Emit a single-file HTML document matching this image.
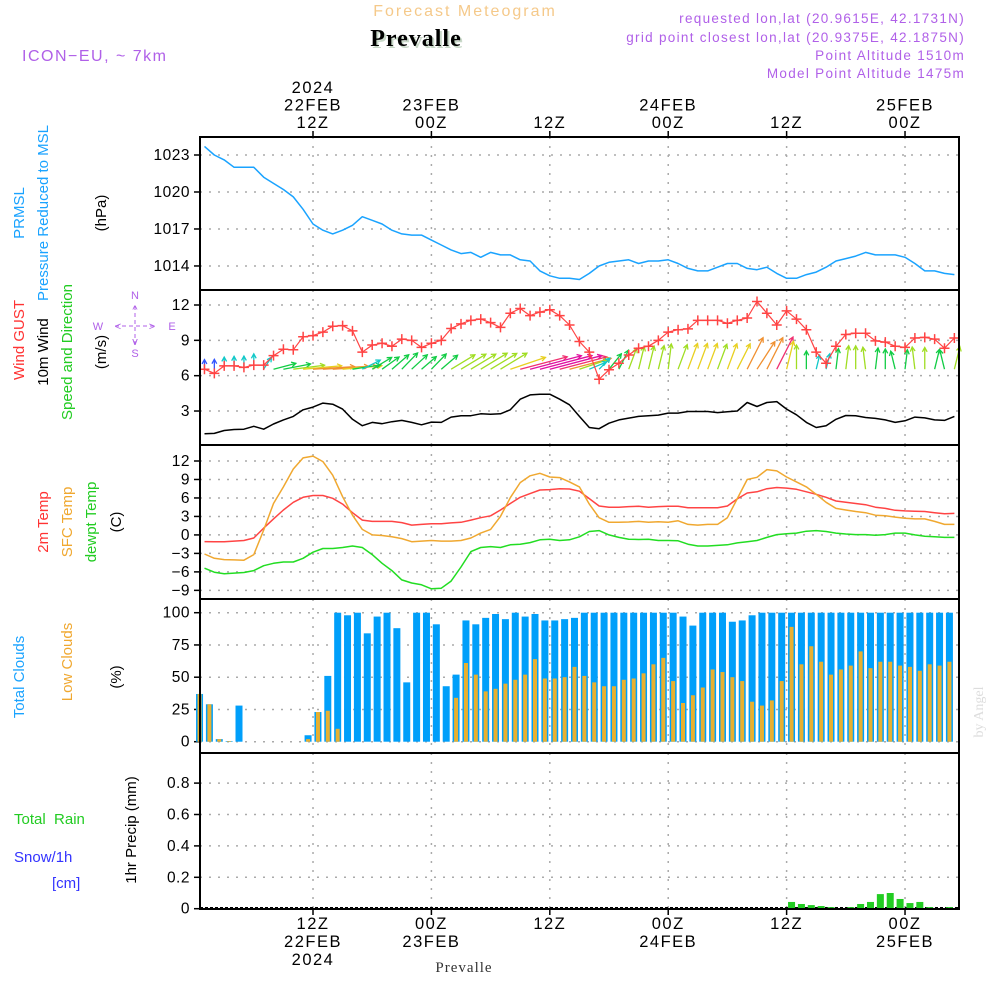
<!DOCTYPE html>
<html><head><meta charset="utf-8"><style>
html,body{margin:0;padding:0;background:#fff;}
svg{display:block;font-family:"Liberation Sans",sans-serif;}
</style></head><body>
<svg id="chart" width="1000" height="1000" viewBox="0 0 1000 1000" xmlns="http://www.w3.org/2000/svg">
<rect x="0" y="0" width="1000" height="1000" fill="#fff"/>
<text x="465" y="16" text-anchor="middle" font-size="16" fill="#f5c98a" letter-spacing="2">Forecast Meteogram</text>
<text x="418" y="48" text-anchor="middle" font-size="24" font-weight="bold" font-family="Liberation Serif,serif" fill="#c8d8c8" letter-spacing="1">Prevalle</text>
<text x="416" y="46" text-anchor="middle" font-size="24" font-weight="bold" font-family="Liberation Serif,serif" fill="#000" letter-spacing="1">Prevalle</text>
<text x="22" y="61" font-size="16" fill="#b060e8" letter-spacing="1.5">ICON−EU, ~ 7km</text>
<g font-size="13.5" fill="#b060e8" text-anchor="end" letter-spacing="1.3">
<text x="965" y="23">requested lon,lat (20.9615E, 42.1731N)</text>
<text x="965" y="42">grid point closest lon,lat (20.9375E, 42.1875N)</text>
<text x="965" y="60">Point Altitude 1510m</text>
<text x="965" y="78">Model Point Altitude 1475m</text>
</g>
<g id="grid"></g>
<g id="marks"></g>
<g id="frames"></g>
<g id="labels"></g>
<g font-size="15">
<text transform="translate(24,213) rotate(-90)" text-anchor="middle" fill="#1aa3ff">PRMSL</text>
<text transform="translate(48,213) rotate(-90)" text-anchor="middle" fill="#1aa3ff">Pressure Reduced to MSL</text>
<text transform="translate(106,213) rotate(-90)" text-anchor="middle" fill="#000">(hPa)</text>
</g>
<g font-size="15">
<text transform="translate(24,340) rotate(-90)" text-anchor="middle" fill="#ff3333">Wind GUST</text>
<text transform="translate(48,352) rotate(-90)" text-anchor="middle" fill="#000">10m Wind</text>
<text transform="translate(72,352) rotate(-90)" text-anchor="middle" fill="#22cc22">Speed and Direction</text>
<text transform="translate(106,352) rotate(-90)" text-anchor="middle" fill="#000">(m/s)</text>
</g>
<g font-size="11" fill="#b060e8" text-anchor="middle">
<text x="135" y="299">N</text><text x="135" y="357">S</text><text x="98" y="330">W</text><text x="172" y="330">E</text>
<text x="135" y="313">^</text><text x="135" y="345">v</text>
<line x1="115" y1="326" x2="155" y2="326" stroke="#b060e8" stroke-dasharray="4,3"/>
<line x1="135" y1="306" x2="135" y2="346" stroke="#b060e8" stroke-dasharray="4,3"/>
<text x="118" y="330">&lt;</text><text x="152" y="330">&gt;</text>
</g>
<g font-size="15">
<text transform="translate(48,522) rotate(-90)" text-anchor="middle" fill="#ff3333">2m Temp</text>
<text transform="translate(72,522) rotate(-90)" text-anchor="middle" fill="#f0a830">SFC Temp</text>
<text transform="translate(96,522) rotate(-90)" text-anchor="middle" fill="#22cc22">dewpt Temp</text>
<text transform="translate(121,522) rotate(-90)" text-anchor="middle" fill="#000">(C)</text>
</g>
<g font-size="15">
<text transform="translate(24,677) rotate(-90)" text-anchor="middle" fill="#1aa3ff">Total Clouds</text>
<text transform="translate(72,662) rotate(-90)" text-anchor="middle" fill="#f0a830">Low Clouds</text>
<text transform="translate(121,677) rotate(-90)" text-anchor="middle" fill="#000">(%)</text>
</g>
<g font-size="15">
<text x="14" y="824" fill="#22cc22" xml:space="preserve">Total  Rain</text>
<text x="14" y="862" fill="#3333ff">Snow/1h</text>
<text x="52" y="888" fill="#3333ff">[cm]</text>
<text transform="translate(136,830) rotate(-90)" text-anchor="middle" fill="#000">1hr Precip (mm)</text>
</g>
<text x="464" y="972" text-anchor="middle" font-size="15" font-family="Liberation Serif,serif" fill="#333" letter-spacing="1">Prevalle</text>
<text transform="translate(983,712) rotate(-90)" text-anchor="middle" font-size="14" font-family="Liberation Serif,serif" fill="#ddd">by Angel</text>
</svg>
<script>
// ===== data (hourly, h = 1..77 hours after 00Z 22FEB) =====
const hours = [];
for (let h = 1; h <= 77; h++) hours.push(h);
const pressure = [1023.7,1023.0,1022.6,1022.0,1022.0,1022.0,1021.2,1020.7,1020.2,1019.6,1018.6,1017.4,1016.9,1016.6,1016.9,1017.3,1018.0,1017.7,1017.4,1016.9,1016.6,1016.5,1016.5,1016.1,1015.7,1015.3,1015.0,1015.1,1014.7,1015.1,1014.9,1014.9,1014.5,1014.4,1013.6,1013.2,1013.0,1013.0,1012.9,1013.4,1014.0,1014.3,1014.4,1014.5,1014.2,1014.4,1014.4,1014.5,1014.2,1013.8,1013.6,1013.6,1013.9,1014.2,1014.2,1013.8,1013.7,1013.9,1013.4,1013.0,1013.0,1013.3,1013.5,1013.9,1014.4,1014.6,1014.8,1015.1,1014.9,1014.9,1014.9,1014.7,1014.2,1013.6,1013.6,1013.4,1013.3];
const windSpeed = [1.07,1.1,1.35,1.43,1.46,1.7,1.46,1.9,2.25,2.54,3.1,3.33,3.67,3.58,3.16,2.3,1.75,2.03,1.92,2.09,2.2,2.03,1.83,2.06,2.03,2.48,2.6,2.6,2.76,2.73,2.76,3.1,4.0,4.37,4.43,4.43,4.0,3.53,2.54,1.6,1.5,1.97,2.25,2.4,2.54,2.6,2.65,2.82,2.82,2.96,2.96,2.96,2.87,2.93,3.0,3.72,3.38,3.72,3.8,3.16,2.68,2.03,1.6,1.75,2.3,2.62,2.6,2.45,2.37,2.25,2.03,2.17,2.48,2.42,2.25,2.2,2.54];
const windGust = [6.55,6.2,6.83,6.83,6.7,6.9,6.9,7.7,8.24,8.2,9.3,9.4,9.7,10.2,10.25,9.8,8.0,8.6,8.75,8.5,9.1,9.0,8.4,8.75,9.0,10.0,10.4,10.7,10.8,10.5,10.1,11.3,11.7,11.1,11.4,11.6,11.1,10.3,8.9,8.0,5.7,6.5,7.06,7.76,8.33,8.5,9.0,9.7,9.9,9.97,10.7,10.7,10.7,10.45,10.7,10.9,12.3,11.3,10.3,11.5,10.8,9.9,8.0,7.06,8.5,9.5,9.6,9.6,8.95,8.85,8.5,8.4,9.2,9.25,9.1,8.33,9.2];
const windDir = [0,0,0,0,0,0,25,70,75,80,83,85,85,85,83,78,55,50,45,40,35,38,40,35,40,50,50,50,50,50,50,65,70,70,70,70,70,70,65,60,35,30,20,15,10,10,10,5,15,15,15,15,15,15,20,20,25,20,20,10,0,0,10,10,5,5,0,-5,5,0,-10,5,-5,0,10,-10,10];
const temp2m = [-1.08,-1.1,-1.1,-1.0,-0.9,-0.5,1.1,2.6,4.05,5.3,6.1,6.4,6.4,5.95,5.0,3.6,2.4,2.2,2.2,2.2,2.0,1.6,1.7,1.8,1.8,1.95,2.05,2.4,2.8,3.1,4.05,5.1,6.1,6.7,7.3,7.35,7.5,7.45,7.1,5.9,4.7,4.5,4.5,4.6,4.65,4.5,4.6,4.65,4.65,4.4,4.4,4.4,4.4,4.7,5.85,6.8,7.0,7.5,7.7,7.6,7.4,7.0,6.6,6.1,5.5,5.3,5.1,4.9,4.5,4.3,4.0,3.9,3.85,3.8,3.6,3.45,3.5];
const tempSfc = [-3.1,-3.8,-4.0,-4.05,-4.1,-3.2,0.8,5.1,7.8,10.7,12.5,12.8,11.9,9.7,6.2,3.2,0.9,0,-0.1,-0.3,-0.6,-1.1,-1.0,-0.9,-1.0,-1.0,-0.9,-0.5,0.3,0.9,3.0,6.05,8.5,9.6,10.0,9.4,9.3,8.6,7.8,5.0,2.8,2.05,2.05,2.1,2.2,2.05,2.15,2.05,2.3,1.7,1.6,1.7,1.7,2.8,5.9,9.0,9.35,10.6,10.4,9.4,8.6,7.8,6.6,5.3,4.3,4.05,3.8,3.6,3.2,3.1,2.9,2.7,2.6,2.6,2.2,1.7,1.7];
const tempDew = [-5.4,-6.05,-6.3,-6.2,-6.1,-5.8,-5.0,-4.6,-4.4,-4.4,-3.8,-2.8,-2.2,-2.2,-2.05,-1.8,-2.05,-3.2,-4.6,-5.8,-7.3,-7.8,-8.1,-8.75,-8.65,-7.5,-5.2,-2.7,-2.05,-1.9,-2.05,-1.6,-1.5,-1.25,-0.8,-0.7,-0.9,-0.8,-0.3,0.55,0.7,0,-0.4,-0.7,-0.75,-0.7,-0.9,-0.9,-0.95,-1.5,-1.8,-1.8,-1.7,-1.6,-1.3,-1.1,-0.9,-0.4,0.05,0.2,0.3,0.6,0.7,0.55,0.3,0.15,0.05,0.05,-0.05,0.05,0.3,0.3,0,-0.2,-0.3,-0.4,-0.4];
// hourly accumulation bars, index i covers hour i..i+1
const cloudTotal = [37,29,2,0.5,28,0,0,0,0,0,0,5,23,51,100,98,100,84,97,100,88,46,100,100,91,43,52,94,91,96,99,95,100,97,99,94,94,95,96,100,100,100,100,100,100,100,100,100,100,97,90,100,100,100,93,94,98,100,100,100,100,100,100,100,100,100,100,100,100,100,100,100,100,100,100,100,100];
const cloudLow = [37,29,2,0.5,0,0,0,0,0,0,0,2,23,24,10,0,0,0,0,0,0,0,0,0,0,0,34,61,52,39,41,45,48,52,64,49,49,50,58,51,46,43,43,48,49,53,60,65,47,30,36,42,56,54,50,47,31,28,32,47,89,60,74,62,52,56,59,70,57,62,62,59,58,55,60,59,62];
const precipStart = 60;
const precip = [0.043,0.03,0.023,0.017,0.01,0.002,0.01,0.03,0.043,0.093,0.1,0.062,0.036,0.043,0.01,0.002,0.01];
// axis ticks
const timeTicks = [12,24,36,48,60,72];
const timeTopLabels = [["2024","22FEB","12Z"],["","23FEB","00Z"],["","","12Z"],["","24FEB","00Z"],["","","12Z"],["","25FEB","00Z"]];
const timeBottomLabels = [["12Z","22FEB","2024"],["00Z","23FEB",""],["12Z","",""],["00Z","24FEB",""],["12Z","",""],["00Z","25FEB",""]];
const pressureTicks = [1014,1017,1020,1023];
const windTicks = [3,6,9,12];
const tempTicks = [-9,-6,-3,0,3,6,9,12];
const cloudTicks = [0,25,50,75,100];
const precipTicks = [0,0.2,0.4,0.6,0.8];

// ===== scales =====
const X = h => 194.6 + 9.867 * h;
const Yp = p => 155 + (1023 - p) * 12.33;
const Yw = v => 305 + (12 - v) * 11.78;
const Yt = t => 461 + (12 - t) * 6.16;
const Yc = c => 741.7 - c * 1.29;
const Yr = r => 908.7 - r * 157;
const panels = [
  {name:'pressure', top:137, bot:290, ticks:pressureTicks, y:Yp, fmt:v=>String(v)},
  {name:'wind', top:290, bot:445, ticks:windTicks, y:Yw, fmt:v=>String(v)},
  {name:'temp', top:445, bot:599, ticks:tempTicks, y:Yt, fmt:v=>(v<0?'−'+(-v):String(v))},
  {name:'cloud', top:599, bot:753, ticks:cloudTicks, y:Yc, fmt:v=>String(v)},
  {name:'precip', top:753, bot:909, ticks:precipTicks, y:Yr, fmt:v=>(v===0?'0':v.toFixed(1))}
];
const L = 200, R = 959;
const NS = 'http://www.w3.org/2000/svg';
function mk(tag, attrs, parent) {
  const e = document.createElementNS(NS, tag);
  for (const k in attrs) e.setAttribute(k, attrs[k]);
  parent.appendChild(e);
  return e;
}
const gGrid = document.getElementById('grid');
const gMarks = document.getElementById('marks');
const gFrames = document.getElementById('frames');
const gLabels = document.getElementById('labels');

panels.forEach(p => {
  p.ticks.forEach(t => {
    const y = p.y(t);
    if (y > p.top + 3 && y < p.bot - 3) {
      const g = mk('line', {x1:L, x2:R, y1:y, y2:y, stroke:'#aaa', 'stroke-dasharray':'2,7', 'stroke-width':1.5}, gGrid);
      
      
    }
    mk('line', {x1:L-6, x2:L, y1:y, y2:y, stroke:'#000', 'stroke-width':1.5}, gGrid);
    const tx = mk('text', {x:L-10, y:y+5, 'text-anchor':'end', 'font-size':15.5, fill:'#000', 'letter-spacing':0.5}, gLabels);
    
    
    tx.textContent = p.fmt(t);
  });
  timeTicks.forEach(h => {
    const vl = mk('line', {x1:X(h), x2:X(h), y1:p.top, y2:p.bot, stroke:'#aaa', 'stroke-dasharray':'2,7', 'stroke-width':1.5}, gGrid);
    
    
  });
  const fr = mk('rect', {x:L, y:p.top, width:R-L, height:p.bot-p.top, fill:'none', stroke:'#000', 'stroke-width':2}, gFrames);
  
  
});
timeTicks.forEach((h, i) => {
  mk('line', {x1:X(h), x2:X(h), y1:131, y2:137, stroke:'#000', 'stroke-width':1.5}, gFrames);
  mk('line', {x1:X(h), x2:X(h), y1:909, y2:915, stroke:'#000', 'stroke-width':1.5}, gFrames);
  timeTopLabels[i].forEach((s, j) => {
    if (!s) return;
    const t = mk('text', {x:X(h), y:93 + j*17.5, 'text-anchor':'middle', 'font-size':16.5, fill:'#000', 'letter-spacing':1.5}, gLabels);
    
    
    t.textContent = s;
  });
  timeBottomLabels[i].forEach((s, j) => {
    if (!s) return;
    const t = mk('text', {x:X(h), y:929 + j*18, 'text-anchor':'middle', 'font-size':16.5, fill:'#000', 'letter-spacing':1.5}, gLabels);
    
    
    t.textContent = s;
  });
});

function polyline(vals, yf, color, name, w) {
  const pts = vals.map((v, i) => X(hours[i]).toFixed(1) + ',' + yf(v).toFixed(1)).join(' ');
  const pl = mk('polyline', {points:pts, fill:'none', stroke:color, 'stroke-width':w||1.5, 'stroke-linejoin':'round'}, gMarks);
  
  
}
polyline(pressure, Yp, '#1aa3ff', 'pressure-line');
cloudTotal.forEach((v, i) => {
  const cx = X(i + 0.5);
  const b = mk('rect', {x:cx-3.5, y:Yc(v), width:7, height:Yc(0)-Yc(v), fill:'#009ffa'}, gMarks);
  
  
});
cloudLow.forEach((v, i) => {
  const cx = X(i + 0.5);
  const b = mk('rect', {x:cx-2, y:Yc(v), width:4, height:Yc(0)-Yc(v), fill:'#e8b030'}, gMarks);
  
  
});
mk('line', {x1:L, x2:R, y1:Yr(0)-1, y2:Yr(0)-1, stroke:'#000', 'stroke-width':1.5, 'stroke-dasharray':'3,2'}, gMarks);
precip.forEach((v, k) => {
  const cx = X(precipStart + k + 0.5);
  const b = mk('rect', {x:cx-3.5, y:Yr(v), width:7, height:Yr(0)-Yr(v), fill:'#22cc22'}, gMarks);
  
  
});
polyline(temp2m, Yt, '#ff4444', 'temp-2m-line');
polyline(tempSfc, Yt, '#f0a830', 'temp-sfc-line');
polyline(tempDew, Yt, '#22dd22', 'dewpoint-line');
polyline(windSpeed, Yw, '#000', 'wind-speed-line');
function spdColor(s) {
  if (s < 1.3) return '#3355ff';
  if (s < 1.8) return '#11c8c8';
  if (s < 2.4) return '#11cc44';
  if (s < 2.9) return '#a0dd22';
  if (s < 3.3) return '#e8d020';
  if (s < 3.8) return '#f09030';
  if (s < 4.2) return '#f03070';
  return '#e010a0';
}
windDir.forEach((d, i) => {
  const s = windSpeed[i];
  const a = d * Math.PI / 180;
  const x0 = X(hours[i]), y0 = Yw(6.55);
  const x1 = x0 + Math.sin(a) * s * 12.5, y1 = y0 - Math.cos(a) * s * 9;
  const c = spdColor(s);
  const ang = Math.atan2(y1 - y0, x1 - x0);
  const hl = 5;
  const g = mk('g', {stroke:c, 'stroke-width':1.3, fill:'none'}, gMarks);
  
  
  mk('line', {x1:x0, y1:y0, x2:x1, y2:y1}, g);
  mk('polyline', {points:(x1 - hl*Math.cos(ang-0.5)) + ',' + (y1 - hl*Math.sin(ang-0.5)) + ' ' + x1 + ',' + y1 + ' ' + (x1 - hl*Math.cos(ang+0.5)) + ',' + (y1 - hl*Math.sin(ang+0.5))}, g);
});
polyline(windGust, Yw, '#ff4444', 'wind-gust-line', 1.2);
windGust.forEach((v, i) => {
  const x = X(hours[i]), y = Yw(v);
  const g = mk('path', {d:`M${x-5},${y}H${x+5}M${x},${y-5}V${y+5}`, stroke:'#ff4444', 'stroke-width':1.5}, gMarks);
  
  
});
</script>
</body></html>
